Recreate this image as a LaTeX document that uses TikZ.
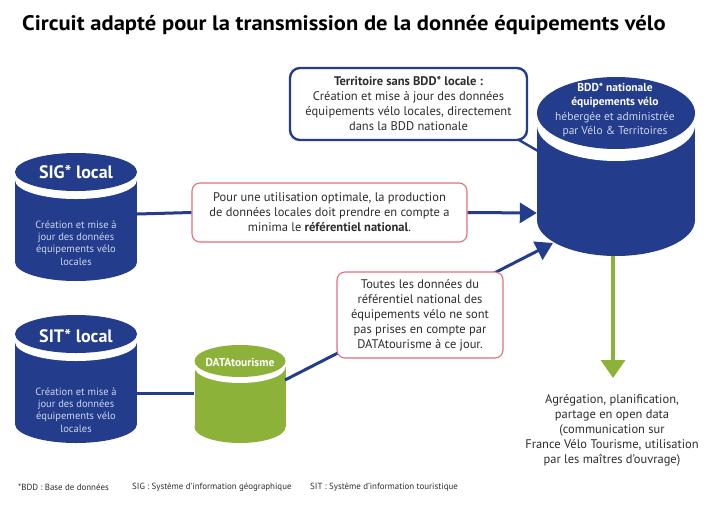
\documentclass[tikz,border=0pt]{standalone}
\usepackage{fontspec}
\setmainfont{PT Sans}
\usetikzlibrary{arrows.meta}
\definecolor{vblue}{RGB}{35,60,140}
\definecolor{vgreen}{RGB}{141,178,58}
\definecolor{vpink}{RGB}{226,112,122}
\definecolor{vtext}{RGB}{45,45,45}
\definecolor{vpale}{RGB}{205,213,235}
% #1 cx, #2 rx, #3 top-ellipse centre y, #4 ry, #5 gap, #6 bottom-ellipse centre y, #7 colour
\newcommand\dbcyl[7]{%
  \fill[#7] (#1-#2,#3+#5) rectangle (#1+#2,#6);
  \fill[#7] (#1,#6) ellipse [x radius=#2, y radius=#4];
  \fill[white] (#1,#3+#5) ellipse [x radius=#2, y radius=#4];
  \fill[#7] (#1,#3) ellipse [x radius=#2, y radius=#4];
}
\tikzset{
  pinkbox/.style={draw=vpink, line width=1.1pt, rounded corners=8pt, fill=white,
    align=center, text=vtext, inner sep=0pt, font=\fontsize{12.5}{15}\selectfont},
  bluebox/.style={draw=vblue, line width=2.4pt, rounded corners=10pt, fill=white,
    align=center, text=vtext, inner sep=0pt, font=\fontsize{12.5}{15}\selectfont},
  cyllabel/.style={text=white, font=\bfseries\fontsize{18}{20}\selectfont, inner sep=0pt},
  cyltext/.style={text=vpale, align=center, inner sep=0pt, font=\fontsize{10.5}{12.4}\selectfont},
  anchorbox/.style={inner sep=0pt, minimum height=1pt},
  blueline/.style={draw=vblue, line width=3pt},
  bluearrow/.style={blueline, -{Triangle[length=17pt,width=20pt]}},
  greenarrow/.style={draw=vgreen, line width=3.5pt, -{Triangle[length=18pt,width=24pt]}},
  plaintext/.style={text=vtext, align=center, inner sep=0pt, font=\fontsize{12.5}{15}\selectfont},
  foot/.style={text=vtext, inner sep=0pt, anchor=west, font=\fontsize{8.9}{10}\selectfont},
}
\begin{document}
\begin{tikzpicture}[x=1pt,y=-1pt]
\useasboundingbox (0,0) rectangle (720,509);
% title
\node[anchor=west, inner sep=0pt, text=black, font=\bfseries\fontsize{21}{25}\selectfont] (title) at (22,25)
  {\scalebox{1.075}[1]{Circuit adapté pour la transmission de la donnée équipements vélo}};

% cylinders
\dbcyl{76}{61}{172}{19}{8}{262}{vblue}
\dbcyl{76}{61}{334}{19}{8}{424}{vblue}
\dbcyl{240}{45.5}{361}{16}{6}{427}{vgreen}
\dbcyl{616}{79}{113}{36}{12}{220}{vblue}

\node[cyllabel] (siglab) at (76,172) {SIG* local};
\node[cyltext] (sigtxt) at (76,243) {Création et mise à\\jour des données\\équipements vélo\\locales};
\node[cyllabel] (sitlab) at (76,336) {SIT* local};
\node[cyltext] (sittxt) at (76,410) {Création et mise à\\jour des données\\équipements vélo\\locales};
\node[cyllabel, font=\bfseries\fontsize{11.5}{13}\selectfont] (datalab) at (240,362) {DATAtourisme};
\node[text=white, align=center, inner sep=0pt, font=\fontsize{11.5}{14.3}\selectfont] (bddtxt) at (615,110)
  {\textbf{BDD* nationale}\\\textbf{équipements vélo}\\\textcolor{vpale}{hébergée et administrée}\\\textcolor{vpale}{par Vélo \& Territoires}};

% invisible anchor nodes for connectors
\node[anchorbox, minimum width=122pt] (sig) at (76,214) {};
\node[anchorbox, minimum width=122pt] (sit) at (76,393) {};
\node[anchorbox, minimum width=91pt] (data) at (240,393) {};
\node[anchorbox, minimum width=158pt] (bdd) at (616,213) {};
\coordinate (datane) at (285,380);
\coordinate (bddsw) at (553,243);
\coordinate (bddbot) at (613,256);
\coordinate (aggtop) at (613,378);
\coordinate (bddtail) at (538,151);
\coordinate (terrtail) at (519,140);

% connectors behind boxes
\draw[blueline] (sit.east) -- (data.west);
\draw[bluearrow] (datane) -- (bddsw);
\draw[greenarrow] (bddbot) -- (aggtop);

% boxes
\node[pinkbox, minimum width=275pt, minimum height=59pt] (box1) at (329.5,212.5)
  {Pour une utilisation optimale, la production\\de données locales doit prendre en compte a\\minima le \textbf{référentiel national}.};
\node[pinkbox, minimum width=166pt, minimum height=86pt] (box2) at (420,315)
  {Toutes les données du\\référentiel national des\\équipements vélo ne sont\\pas prises en compte par\\DATAtourisme à ce jour.};
\draw[draw=vblue, line width=2.4pt] (terrtail) -- (bddtail);
\node[bluebox, minimum width=237pt, minimum height=72pt] (terr) at (408.5,104)
  {\textbf{Territoire sans BDD* locale :}\\Création et mise à jour des données\\équipements vélo locales, directement\\dans la BDD nationale};

\draw[blueline] (sig.east) -- (box1.west);
\draw[bluearrow] (box1.east) -- (bdd.west);

\node[plaintext] (agg) at (612,430)
  {Agrégation, planification,\\partage en open data\\(communication sur\\France Vélo Tourisme, utilisation\\par les maîtres d'ouvrage)};

\node[foot] (f1) at (18,487) {*BDD : Base de données};
\node[foot] (f2) at (132,487) {SIG : Système d'information géographique};
\node[foot] (f3) at (310,487) {SIT : Système d'information touristique};
\end{tikzpicture}
\end{document}
